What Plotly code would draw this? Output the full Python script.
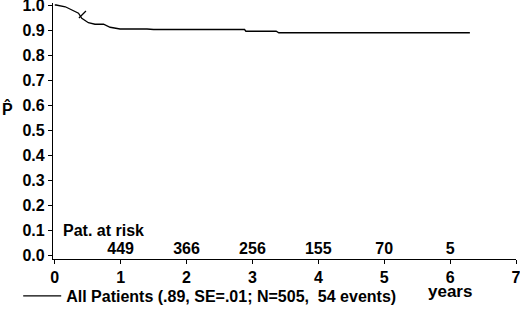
import plotly.graph_objects as go

# Kaplan-Meier curve
time = [0.0, 0.02, 0.16, 0.28, 0.36, 0.41, 0.51, 0.61, 0.74, 0.84, 0.99, 1.4, 1.5, 2.88, 2.9, 3.36, 3.4, 6.3]
surv = [1.0, 1.0, 0.993, 0.976, 0.967, 0.947, 0.929, 0.923, 0.923, 0.911, 0.904, 0.904, 0.902, 0.902, 0.895, 0.895, 0.889, 0.889]
censor_time = [0.42]
censor_surv = [0.962]

risk_years = [1, 2, 3, 4, 5, 6]
risk_counts = [449, 366, 256, 155, 70, 5]

x_ticks = [0, 1, 2, 3, 4, 5, 6, 7]
y_ticks = [0.0, 0.1, 0.2, 0.3, 0.4, 0.5, 0.6, 0.7, 0.8, 0.9, 1.0]

legend_label = "All Patients (.89, SE=.01; N=505,  54 events)"

FONT = "Liberation Sans, Arial, sans-serif"
FS = 16

def bfont(size=FS):
    return dict(family=FONT, size=size, color="black", weight="bold")

fig = go.Figure()
fig.add_trace(go.Scatter(
    x=time, y=surv, mode="lines", name=legend_label,
    line=dict(color="black", width=1.3), showlegend=True,
))
fig.add_trace(go.Scatter(
    x=censor_time, y=censor_surv, mode="markers", showlegend=False,
    marker=dict(symbol="line-ne", size=7, line=dict(color="black", width=1.2)),
))
fig.add_trace(go.Scatter(
    x=risk_years, y=[0.022] * len(risk_years), mode="text",
    text=[str(c) for c in risk_counts], showlegend=False,
    textfont=bfont(),
))

fig.add_annotation(x=0.1, y=0.10, xref="x", yref="y", text="Pat. at risk",
                   showarrow=False, xanchor="left", yanchor="middle", font=bfont())
fig.add_annotation(x=6.0, y=-0.125, xref="x", yref="paper", text="years",
                   showarrow=False, xanchor="center", yanchor="middle", font=bfont(17))
fig.add_annotation(x=-0.098, y=0.585, xref="paper", yref="y", text="P\u0302",
                   showarrow=False, xanchor="center", yanchor="middle", font=bfont())

fig.update_layout(
    width=520, height=309,
    margin=dict(l=53, r=4, t=3, b=50, autoexpand=False),
    paper_bgcolor="white", plot_bgcolor="white",
    font=bfont(),
    showlegend=True,
    legend=dict(orientation="h", xref="container", yref="container",
                x=0.035, y=0.042, xanchor="left", yanchor="middle",
                itemwidth=38, font=bfont(), bgcolor="rgba(0,0,0,0)"),
    xaxis=dict(range=[-0.027, 7.0], tickvals=x_ticks, ticktext=[str(v) for v in x_ticks],
               showgrid=False, zeroline=False, showline=True, linecolor="black", linewidth=1.2,
               ticks="outside", ticklen=4, tickcolor="black", tickfont=bfont(),
               ticklabeloverflow="allow", automargin=False),
    yaxis=dict(range=[-0.016, 1.008], tickvals=y_ticks, ticktext=[f"{v:.1f}" for v in y_ticks],
               showgrid=False, zeroline=False, showline=True, linecolor="black", linewidth=1.2,
               ticks="outside", ticklen=4, tickcolor="black", tickfont=bfont(),
               ticklabeloverflow="allow", automargin=False),
)

fig.write_html("out.html", config={"displayModeBar": False},
               post_script="document.body.style.margin='0';document.body.style.overflow='hidden';")
